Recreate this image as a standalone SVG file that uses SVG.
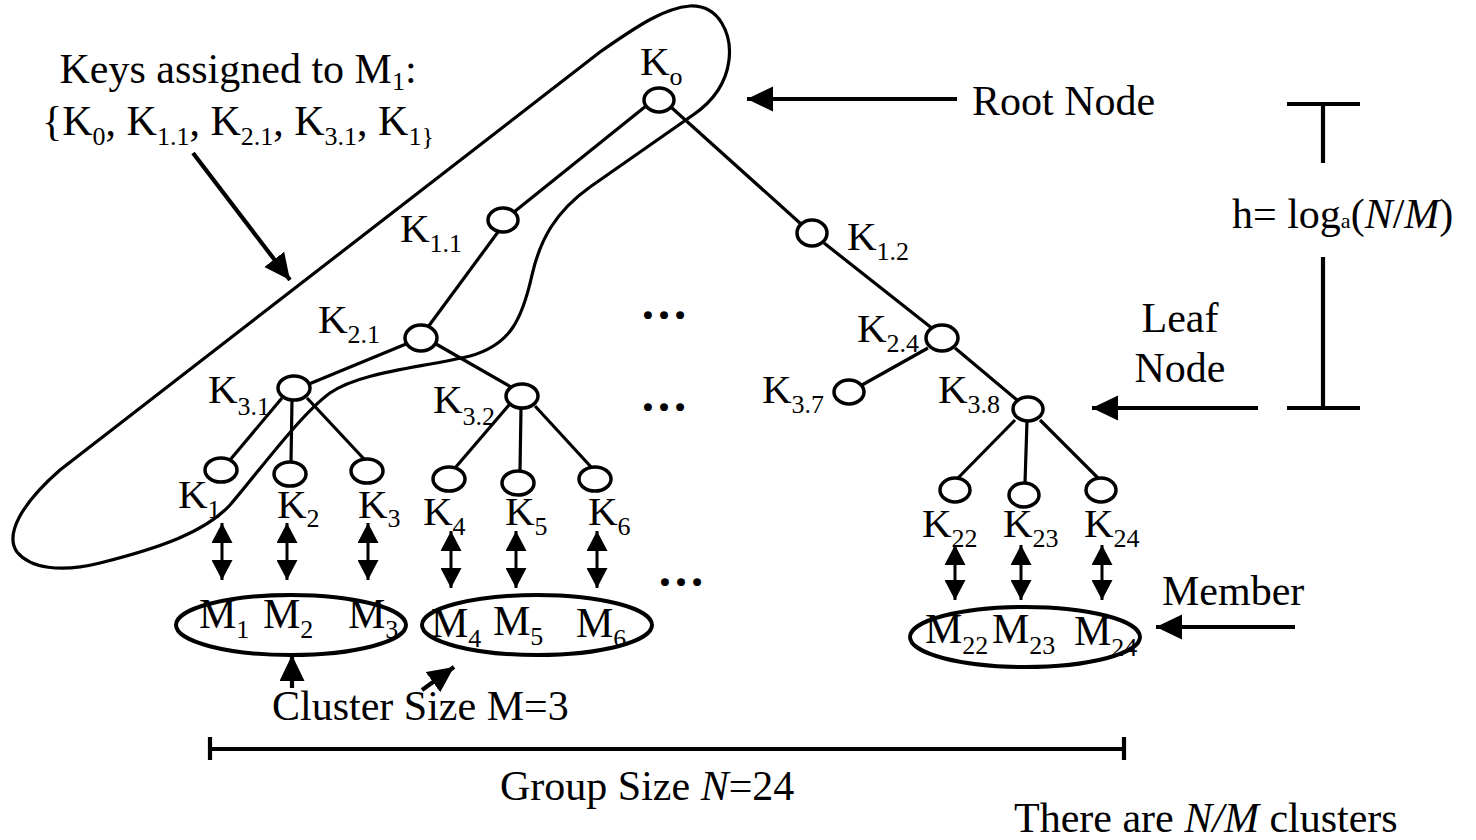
<svg xmlns="http://www.w3.org/2000/svg" width="1476" height="840" viewBox="0 0 1476 840">
<style>
.t{font-family:"Liberation Serif","Times New Roman",serif;font-size:42px;fill:#000}
.k{font-family:"Liberation Serif","Times New Roman",serif;font-size:41px;fill:#000}
.s{font-size:26px}
.i{font-style:italic}
.dots{font-size:48px;stroke:#000;stroke-width:2.2}
.n{fill:#fff;stroke:#000;stroke-width:3.5}
.e{stroke:#000;stroke-width:3.2;fill:none}
.da{stroke:#000;stroke-width:3;marker-start:url(#dh);marker-end:url(#dh)}
.ba{stroke:#000;stroke-width:4.2;marker-end:url(#bh)}
.bar{stroke:#000;stroke-width:4.2;fill:none}
.cl{fill:none;stroke:#000;stroke-width:4}
</style>
<defs>
<marker id="dh" markerUnits="userSpaceOnUse" markerWidth="21" markerHeight="21" refX="20" refY="10.5" orient="auto-start-reverse"><path d="M0,0 L20,10.5 L0,21 Z" fill="#000"/></marker>
<marker id="bh" markerUnits="userSpaceOnUse" markerWidth="26" markerHeight="26" refX="26" refY="12.5" orient="auto"><path d="M0,0 L26,12.5 L0,25 Z" fill="#000"/></marker>
</defs>
<rect width="1476" height="840" fill="#fff"/>

<g id="hull">
<path class="e" stroke-width="3.6" d="M693,115 L590,187 C555,212 540,240 532,275 C522,320 510,345 470,356 C420,368 360,372 330,393 C300,415 260,470 230,505 C205,532 160,548 100,563 C60,573 30,568 17,552 C5,535 20,505 60,470 L600,52 C640,24 665,8 690,6 C720,5 732,35 729,60 C726,85 712,102 693,115 Z"/>
</g>

<g id="connectors">
<line class="e" x1="646" y1="106" x2="514" y2="212"/>
<line class="e" x1="672" y1="108" x2="801" y2="224"/>
<line class="e" x1="824" y1="243" x2="933" y2="329"/>
<line class="e" stroke-width="4.2" x1="498" y1="232" x2="428" y2="327"/>
<line class="e" x1="406" y1="344" x2="309" y2="384"/>
<line class="e" x1="436" y1="344" x2="511" y2="387"/>
<line class="e" x1="282" y1="398" x2="230" y2="460"/>
<line class="e" x1="292" y1="400" x2="291" y2="462"/>
<line class="e" x1="307" y1="398" x2="364" y2="459"/>
<line class="e" x1="509" y1="405" x2="455" y2="468"/>
<line class="e" x1="521" y1="408" x2="520" y2="471"/>
<line class="e" x1="535" y1="406" x2="592" y2="468"/>
<line class="e" x1="928" y1="348" x2="862" y2="385"/>
<line class="e" x1="955" y1="348" x2="1017" y2="400"/>
<line class="e" x1="1015" y1="420" x2="958" y2="478"/>
<line class="e" x1="1027" y1="421" x2="1025" y2="483"/>
<line class="e" x1="1040" y1="420" x2="1098" y2="478"/>

<line class="da" x1="222" y1="523" x2="222" y2="580"/>
<line class="da" x1="287" y1="523" x2="287" y2="580"/>
<line class="da" x1="368" y1="523" x2="368" y2="580"/>
<line class="da" x1="451" y1="531" x2="451" y2="588"/>
<line class="da" x1="516" y1="531" x2="516" y2="588"/>
<line class="da" x1="597" y1="531" x2="597" y2="588"/>
<line class="da" x1="955" y1="545" x2="955" y2="600"/>
<line class="da" x1="1021" y1="545" x2="1021" y2="600"/>
<line class="da" x1="1102" y1="545" x2="1102" y2="600"/>

<line class="ba" x1="193" y1="153" x2="290" y2="280"/>
<line class="ba" x1="957" y1="99" x2="747" y2="99"/>
<line class="ba" stroke-width="4.6" x1="1258" y1="408" x2="1092" y2="408"/>
<line class="ba" x1="1295" y1="627" x2="1156" y2="627"/>
<line class="ba" x1="292" y1="688" x2="292" y2="655"/>
<line class="ba" x1="422" y1="690" x2="454" y2="667"/>
</g>

<g id="K0"><ellipse class="n" cx="659" cy="100" rx="15" ry="12"/><text class="k" x="640" y="75">K<tspan class="s" dy="10">o</tspan></text></g>
<g id="K1.1"><ellipse class="n" cx="503" cy="220" rx="15" ry="12"/><text class="k" x="400" y="242">K<tspan class="s" dy="10">1.1</tspan></text></g>
<g id="K1.2"><ellipse class="n" cx="812" cy="233" rx="15" ry="13"/><text class="k" x="847" y="250">K<tspan class="s" dy="10">1.2</tspan></text></g>
<g id="K2.1"><ellipse class="n" cx="421" cy="338" rx="16" ry="13"/><text class="k" x="318" y="333">K<tspan class="s" dy="10">2.1</tspan></text></g>
<g id="K2.4"><ellipse class="n" cx="942" cy="338" rx="16" ry="13"/><text class="k" x="857" y="342">K<tspan class="s" dy="10">2.4</tspan></text></g>
<g id="K3.1"><ellipse class="n" cx="294" cy="388" rx="16" ry="12"/><text class="k" x="208" y="403">K<tspan class="s" dy="12">3.1</tspan></text></g>
<g id="K3.2"><ellipse class="n" cx="522" cy="396" rx="16" ry="12"/><text class="k" x="433" y="413">K<tspan class="s" dy="12">3.2</tspan></text></g>
<g id="K3.7"><ellipse class="n" cx="849" cy="392" rx="15" ry="12"/><text class="k" x="762" y="403">K<tspan class="s" dy="10">3.7</tspan></text></g>
<g id="K3.8"><ellipse class="n" cx="1028" cy="409" rx="15" ry="12"/><text class="k" x="938" y="403">K<tspan class="s" dy="10">3.8</tspan></text></g>
<g id="K1"><ellipse class="n" cx="221" cy="470" rx="16" ry="12"/><text class="k" x="178" y="508">K<tspan class="s" dy="10">1</tspan></text></g>
<g id="K2"><ellipse class="n" cx="290" cy="474" rx="16" ry="12"/><text class="k" x="277" y="518">K<tspan class="s" dy="9">2</tspan></text></g>
<g id="K3"><ellipse class="n" cx="367" cy="471" rx="16" ry="12"/><text class="k" x="358" y="518">K<tspan class="s" dy="9">3</tspan></text></g>
<g id="K4"><ellipse class="n" cx="449" cy="479" rx="16" ry="12"/><text class="k" x="423" y="525">K<tspan class="s" dy="10">4</tspan></text></g>
<g id="K5"><ellipse class="n" cx="518" cy="483" rx="16" ry="12"/><text class="k" x="505" y="525">K<tspan class="s" dy="10">5</tspan></text></g>
<g id="K6"><ellipse class="n" cx="595" cy="479" rx="16" ry="12"/><text class="k" x="588" y="525">K<tspan class="s" dy="10">6</tspan></text></g>
<g id="K22"><ellipse class="n" cx="955" cy="490" rx="15" ry="12"/><text class="k" x="922" y="537">K<tspan class="s" dy="10">22</tspan></text></g>
<g id="K23"><ellipse class="n" cx="1024" cy="495" rx="15" ry="12"/><text class="k" x="1003" y="537">K<tspan class="s" dy="10">23</tspan></text></g>
<g id="K24"><ellipse class="n" cx="1101" cy="490" rx="15" ry="12"/><text class="k" x="1084" y="537">K<tspan class="s" dy="10">24</tspan></text></g>

<g id="cluster1"><ellipse class="cl" cx="291" cy="625" rx="115" ry="30"/>
<text class="t" x="199" y="628">M<tspan class="s" dy="10">1</tspan></text>
<text class="t" x="263" y="628">M<tspan class="s" dy="10">2</tspan></text>
<text class="t" x="348" y="628">M<tspan class="s" dy="10">3</tspan></text></g>
<g id="cluster2"><ellipse class="cl" cx="537" cy="625" rx="115" ry="30"/>
<text class="t" x="431" y="637">M<tspan class="s" dy="10">4</tspan></text>
<text class="t" x="493" y="635">M<tspan class="s" dy="10">5</tspan></text>
<text class="t" x="576" y="637">M<tspan class="s" dy="10">6</tspan></text></g>
<g id="cluster8"><ellipse class="cl" cx="1025" cy="637" rx="115" ry="30"/>
<text class="t" x="925" y="643">M<tspan class="s" dy="11">22</tspan></text>
<text class="t" x="992" y="643">M<tspan class="s" dy="11">23</tspan></text>
<text class="t" x="1074" y="645">M<tspan class="s" dy="11">24</tspan></text></g>

<g id="labels">
<text class="t" text-anchor="middle"><tspan x="238" y="83">Keys assigned to M</tspan><tspan class="s" dy="7">1</tspan><tspan dy="-7">:</tspan><tspan x="238" y="135">{K</tspan><tspan class="s" dy="10">0</tspan><tspan dy="-10">, K</tspan><tspan class="s" dy="10">1.1</tspan><tspan dy="-10">, K</tspan><tspan class="s" dy="10">2.1</tspan><tspan dy="-10">, K</tspan><tspan class="s" dy="10">3.1</tspan><tspan dy="-10">, K</tspan><tspan class="s" dy="10">1}</tspan></text>
<text class="t" x="972" y="115">Root Node</text>
<text class="t" x="1232" y="228">h= log<tspan font-size="22px">a</tspan>(<tspan class="i">N</tspan>/<tspan class="i">M</tspan>)</text>
<text class="t" x="1180" y="332" text-anchor="middle">Leaf</text>
<text class="t" x="1180" y="382" text-anchor="middle">Node</text>
<text class="t" x="1162" y="605">Member</text>
<text class="t dots" x="640" y="318">…</text>
<text class="t dots" x="640" y="410">…</text>
<text class="t dots" x="657" y="585">…</text>
<text class="t" x="272" y="720">Cluster Size M=3</text>
<text class="t" x="500" y="800">Group Size <tspan class="i">N</tspan>=24</text>
<text class="t" x="1014" y="832">There are <tspan class="i">N/M</tspan> clusters</text>
</g>

<g id="bars">
<path class="bar" d="M1287,104 H1360 M1323,104 V163 M1323,257 V408 M1287,408 H1360"/>
<path class="bar" stroke-width="3.6" d="M210,737 V760 M210,749 H1124 M1124,737 V760"/>
</g>
</svg>
